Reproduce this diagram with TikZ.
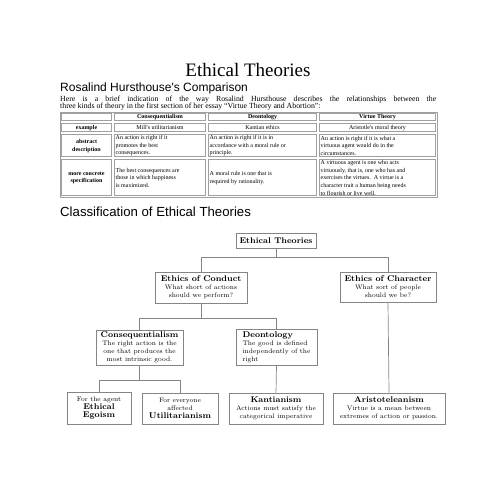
\documentclass[tikz,border=0pt]{standalone}
\usepackage{fontspec}
\newfontfamily\tnr{Liberation Serif}
\newfontfamily\ari{Liberation Sans}
\definecolor{bord}{HTML}{858585}
\definecolor{tline}{HTML}{A0A0A0}
\newcommand{\ds}{\fontsize{6.6}{8}\selectfont}
\newcommand{\bt}{\fontsize{8.3}{8.5}\selectfont\bfseries}
\tikzset{
  box/.style={draw=bord, line width=0.7pt, inner sep=1.5pt, align=center, fill=white, font=\ds},
  conn/.style={draw=bord, line width=0.7pt},
  tcell/.style={font=\tnr\fontsize{6}{7.6}\selectfont, inner sep=0pt, align=left, anchor=west},
  thead/.style={font=\tnr\fontsize{6}{7.6}\selectfont\bfseries, inner sep=0pt, align=center},
  tplain/.style={font=\tnr\fontsize{6}{7.6}\selectfont, inner sep=0pt, align=center},
}
\begin{document}
\begin{tikzpicture}[x=1pt,y=-1pt]
\useasboundingbox (0,0) rectangle (495,495);
% headings
\node[anchor=base, inner sep=0, font=\tnr\fontsize{19}{22}\selectfont] (title) at (248,76) {Ethical Theories};
\node[anchor=base west, inner sep=0, font=\ari\fontsize{12}{14}\selectfont] (h1) at (60,92) {Rosalind Hursthouse's Comparison};
\node[anchor=base west, inner sep=0, font=\tnr\fontsize{7.8}{8}\selectfont] (p1) at (60,101) {\makebox[376pt][s]{Here is a brief indication of the way Rosalind Hursthouse describes the relationships between the}};
\node[anchor=base west, inner sep=0, font=\tnr\fontsize{7.8}{8}\selectfont] (p2) at (60,108.5) {three kinds of theory in the first section of her essay “Virtue Theory and Abortion”:};
\node[anchor=base west, inner sep=0, font=\ari\fontsize{13.2}{15}\selectfont] (h2) at (60,216) {Classification of Ethical Theories};
% table
\draw[tline, line width=0.6pt] (60,112) rectangle (437,197);
\foreach \xa/\xb in {60/113,113/207,207/318,318/437}{
  \foreach \ya/\yb in {112/122,122/133,133/158,158/197}{
    \draw[tline, line width=0.5pt] (\xa+1.5,\ya+1.5) rectangle (\xb-1.5,\yb-1.5);
  }
}
\node[thead] (c1) at (160,117.3) {Consequentialism};
\node[thead] (c2) at (262.5,117.3) {Deontology};
\node[thead] (c3) at (377.5,117.3) {Virtue Theory};
\node[thead] (r1) at (86.5,127.8) {example};
\node[thead] (r2) at (86.5,145.8) {abstract\\description};
\node[thead] (r3) at (86.5,177.8) {more concrete\\specification};
\node[tplain] (e1) at (160,127.8) {Mill's utilitarianism};
\node[tplain] (e2) at (262.5,127.8) {Kantian ethics};
\node[tplain] (e3) at (377.5,127.8) {Aristotle's moral theory};
\node[tcell] (a1) at (115.5,145.8) {An action is right if it\\promotes the best\\consequences.};
\node[tcell] (a2) at (209.5,145.8) {An action is right if it is in\\accordance with a moral rule or\\principle.};
\node[tcell] (a3) at (320.5,145.8) {An action is right if it is what a\\virtuous agent would do in the\\circumstances.};
\node[tcell] (s1) at (115.5,177.8) {The best consequences are\\those in which happiness\\is maximized.};
\node[tcell] (s2) at (209.5,177.8) {A moral rule is one that is\\required by rationality.};
\node[tcell] (s3) at (320.5,177.8) {A virtuous agent is one who acts\\virtuously, that is, one who has and\\exercises the virtues.\ \ A virtue is a\\character trait a human being needs\\to flourish or live well.};
% diagram
\node[box, minimum width=80pt, minimum height=15pt] (et) at (276,241) {\bt Ethical Theories};
\node[box, minimum width=92pt, minimum height=31pt] (cond) at (201,287.5) {{\bt Ethics of Conduct}\\What short of actions\\should we perform?};
\node[box, minimum width=96pt, minimum height=30pt] (char) at (388,287) {{\bt Ethics of Character}\\What sort of people\\should we be?};
\node[box, minimum width=87pt, minimum height=35pt] (cons) at (139.5,347.5) {{\bt Consequentialism}\\The right action is the\\one that produces the\\most intrinsic good.};
\node[box, minimum width=81pt, minimum height=36pt, align=left] (deon) at (276.5,347) {{\bt Deontology}\\The good is defined\\independently of the\\right};
\node[box, minimum width=64pt, minimum height=32pt] (ego) at (99,408) {For the agent\\{\bt Ethical}\\{\bt Egoism}};
\node[box, minimum width=76pt, minimum height=31pt] (util) at (180,408.5) {For everyone\\affected\\{\bt Utilitarianism}};
\node[box, minimum width=94pt, minimum height=31pt] (kant) at (276,408.5) {{\bt Kantianism}\\Actions must satisfy the\\categorical imperative};
\node[box, minimum width=112pt, minimum height=31pt] (ari) at (389,408.5) {{\bt Aristoteleanism}\\Virtue is a mean between\\extremes of action or passion.};
\draw[conn] (et.south) -- ++(0,8.5) -| (cond.north);
\draw[conn] (et.south) -- ++(0,8.5) -| (char.north);
\draw[conn] (cond.south) -- ++(0,15) -| (cons.north);
\draw[conn] (cond.south) -- ++(0,15) -| (deon.north);
\draw[conn] (char.south) -- (ari.north);
\draw[conn] (cons.south) -- ++(0,14.5) -| (ego.north);
\draw[conn] (cons.south) -- ++(0,14.5) -| (util.north);
\draw[conn] (deon.south) -- (kant.north);
\end{tikzpicture}
\end{document}
